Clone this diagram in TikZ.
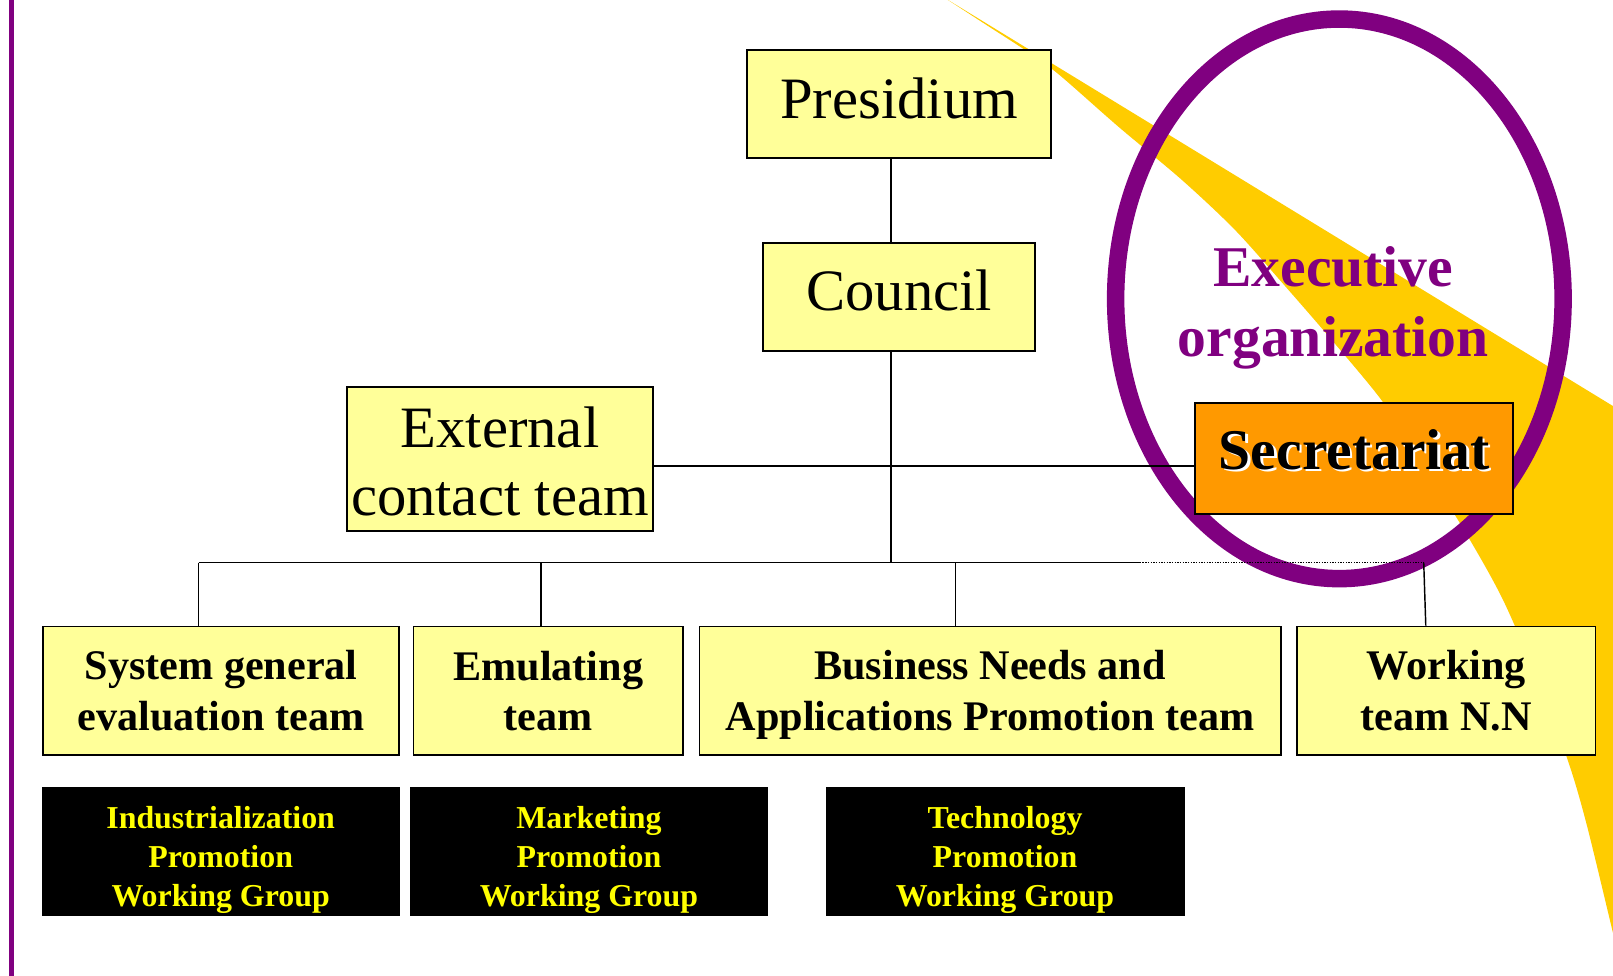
\documentclass[tikz,border=0pt]{standalone}
\usepackage{fontspec}
\setmainfont{Liberation Serif}
\definecolor{boxyellow}{HTML}{FFFF99}
\definecolor{wedgeyellow}{HTML}{FFCC00}
\definecolor{orgpurple}{HTML}{800080}
\definecolor{secorange}{HTML}{FF9900}
\definecolor{txtyellow}{HTML}{FFFF00}
\tikzset{
  ybox/.style={draw=black, line width=1.8pt, fill=boxyellow, inner sep=0pt, align=center},
  bigtext/.style={font=\fontsize{57}{68}\selectfont},
  teamtext/.style={font=\bfseries\fontsize{41}{49}\selectfont},
  wgbox/.style={draw=black, fill=black, inner sep=0pt, align=center, text=txtyellow,
    font=\bfseries\fontsize{31}{38}\selectfont, minimum height=125pt},
  conn/.style={draw=black, line width=1.4pt},
  teambox/.style={ybox, teamtext, minimum height=125pt}
}
\begin{document}
\begin{tikzpicture}[x=1pt,y=-1pt]
\useasboundingbox (0,0) rectangle (1568,948);
\begin{scope}
\clip (0,0) rectangle (1568,948);
% yellow wedge
\fill[wedgeyellow] (920,-1) -- (1575,399) -- (1575,930)
  -- plot[smooth] coordinates {(1570,915) (1568,907) (1542,800) (1523,736) (1490,650) (1461,583) (1429,525) (1380,445) (1343,389) (1295,331) (1250,279) (1201,224) (1149,175) (1087,123) (1030,73) (1000,51) (960,25) (920,-1)} -- cycle;
% left border line
\draw[orgpurple, line width=5pt] (11,-5) -- (11,955);
\end{scope}

% ellipse
\draw[orgpurple, line width=17pt] (1302,290.5) ellipse [x radius=217.5, y radius=272];

% top boxes
\node[ybox, bigtext, minimum width=296pt, minimum height=105pt, text depth=12pt] (pres) at (874,101.5) {Presidium};
\node[ybox, bigtext, minimum width=264pt, minimum height=105pt, text depth=12pt] (council) at (874,288.5) {Council};
\node[ybox, bigtext, minimum width=298pt, minimum height=140pt] (ext) at (486,446) {\rule{0pt}{45pt}External\\[-2pt]contact team};

% executive organization text
\node[text=orgpurple, font=\bfseries\fontsize{56}{68}\selectfont, align=center] (exec) at (1296,299) {Executive\\organization};

% connector coordinates
\coordinate (spine) at (866,547);
\coordinate (hl) at (866,453);
\coordinate (busL) at (193,547);
\coordinate (busB) at (526,547);
\coordinate (busC) at (929,547);
\coordinate (busR) at (1108,547);
\coordinate (busE) at (1384,547);

% secretariat
\node[draw=black, line width=1.8pt, fill=secorange, inner sep=0pt, minimum width=309pt, minimum height=108pt] (sec) at (1316.5,446) {};
\node[text=white, font=\bfseries\fontsize{56}{68}\selectfont] (secshadow) at ([xshift=2.2pt,yshift=6.8pt]sec.center) {Secretariat};
\node[text=black, font=\bfseries\fontsize{56}{68}\selectfont] (sectext) at ([yshift=9pt]sec.center) {Secretariat};

% team boxes
\node[teambox, minimum width=346pt] (teamA) at (215,671.5) {System general\\evaluation team};
\node[teambox, minimum width=262pt] (teamB) at (533,671.5) {Emulating\\team};
\node[teambox, minimum width=565pt] (teamC) at (962.5,671.5) {\rule{0pt}{36.6pt}Business Needs and\\Applications Promotion team};
\node[teambox, minimum width=290pt] (teamD) at (1406,671.5) {Working\\team N.N};

% working group boxes
\node[wgbox, minimum width=347pt] (wgA) at (214.5,827.5) {\rule{0pt}{39pt}Industrialization\\Promotion\\Working Group};
\node[wgbox, minimum width=347pt] (wgB) at (572.5,827.5) {\rule{0pt}{39pt}Marketing\\Promotion\\Working Group};
\node[wgbox, minimum width=348pt] (wgC) at (977,827.5) {\rule{0pt}{39pt}Technology\\Promotion\\Working Group};

% connectors
\draw[conn] (pres.south -| spine) -- (council.north -| spine);
\draw[conn] (council.south -| spine) -- (spine);
\draw[conn] (ext.east |- hl) -- (sec.west |- hl);
\draw[conn] (busL) -- (busR);
\draw[black, line width=1.2pt, dash pattern=on 1.3pt off 1.3pt] (busR) -- (busE);
\draw[conn] (busL) -- (teamA.north -| busL);
\draw[conn] (busB) -- (teamB.north -| busB);
\draw[conn] (busC) -- (teamC.north -| busC);
\draw[conn] (busE) -- ([xshift=-20pt]teamD.north);
\end{tikzpicture}
\end{document}
